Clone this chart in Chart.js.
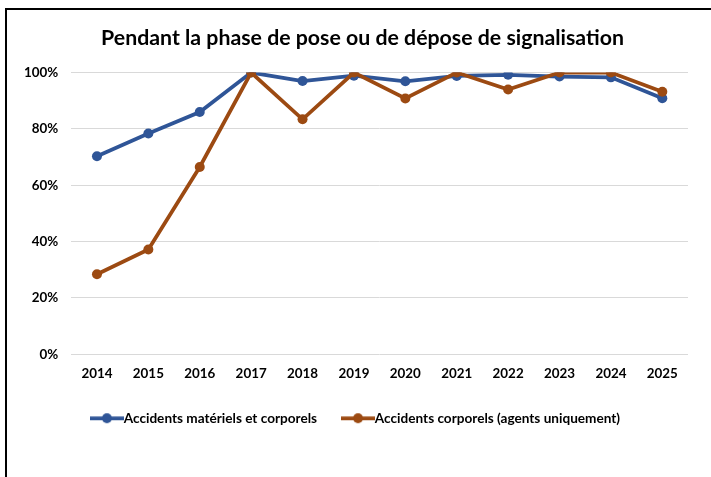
<!DOCTYPE html>
<html>
<head>
<meta charset="utf-8">
<script src="https://cdn.jsdelivr.net/npm/chart.js@4.4.1/dist/chart.umd.min.js"></script>
<style>
  html, body { margin: 0; padding: 0; background: #fff; overflow: hidden; }
  #wrap { position: absolute; left: 0; top: 0; width: 711px; height: 477px; }
  #frame { position: absolute; left: 5px; top: 8px; width: 720px; height: 480px;
           border-left: 2.5px solid #000; border-top: 2.5px solid #000; box-sizing: border-box; }
  canvas { position: absolute; left: 0; top: 0; }
</style>
</head>
<body>
<div id="wrap">
  <div id="frame"></div>
  <canvas id="c" width="711" height="477"></canvas>
</div>
<script>
const titleText = "Pendant la phase de pose ou de dépose de signalisation";
const years = ["2014","2015","2016","2017","2018","2019","2020","2021","2022","2023","2024","2025"];
const seriesNames = ["Accidents matériels et corporels", "Accidents corporels (agents uniquement)"];
const materielsCorporels = [70.3, 78.4, 86.0, 100, 97.0, 98.9, 96.9, 98.8, 99.2, 98.6, 98.3, 90.9];
const corporelsAgents   = [28.4, 37.2, 66.5, 100, 83.4, 100, 90.8, 100, 94.0, 100, 100, 93.2];
const yTicks = [0, 20, 40, 60, 80, 100];

const BLUE = "#2F5597";
const ORANGE = "#9C4A12";
const FONT = "Lato, 'Liberation Sans', sans-serif";

function legendMarker(color) {
  const cv = document.createElement("canvas");
  cv.width = 34; cv.height = 12;
  const g = cv.getContext("2d");
  g.strokeStyle = color; g.lineWidth = 3.75;
  g.beginPath(); g.moveTo(0, 6); g.lineTo(34, 6); g.stroke();
  g.fillStyle = color;
  g.beginPath(); g.arc(17, 6, 5, 0, Math.PI * 2); g.fill();
  return cv;
}
const markers = [legendMarker(BLUE), legendMarker(ORANGE)];

// nudge title and legend boxes to match the reference's placement
const boxNudge = {
  id: "boxNudge",
  afterLayout(chart) {
    const t = chart.titleBlock;
    if (t) { t.left += 13; t.right += 13; t.top -= 1; t.bottom -= 1; }
    const l = chart.legend;
    if (l) { l.left += 9; l.right += 9; l.top -= 12; l.bottom -= 12; l.adjustHitBoxes && l.adjustHitBoxes(); }
  }
};

new Chart(document.getElementById("c"), {
  type: "line",
  data: {
    labels: years,
    datasets: [
      { label: seriesNames[0], data: materielsCorporels, borderColor: BLUE, backgroundColor: BLUE,
        borderWidth: 3.75, pointRadius: 5, pointBackgroundColor: BLUE, pointBorderWidth: 0,
        tension: 0, order: 1 },
      { label: seriesNames[1], data: corporelsAgents, borderColor: ORANGE, backgroundColor: ORANGE,
        borderWidth: 3.75, pointRadius: 5, pointBackgroundColor: ORANGE, pointBorderWidth: 0,
        tension: 0, order: 0 }
    ]
  },
  plugins: [boxNudge],
  options: {
    responsive: false,
    animation: false,
    devicePixelRatio: 1,
    layout: { padding: { left: 11, right: 23, top: 0, bottom: 30 } },
    plugins: {
      tooltip: { enabled: false },
      title: {
        display: true, text: titleText, color: "#000",
        font: { family: FONT, size: 21.3, weight: "bold" },
        padding: { top: 26, bottom: 21 }
      },
      legend: {
        position: "bottom",
        labels: {
          color: "#000",
          font: { family: FONT, size: 13.6, weight: "bold" },
          usePointStyle: true,
          pointStyleWidth: 20,
          boxHeight: 12,
          padding: 31,
          sort: (a, b) => a.datasetIndex - b.datasetIndex,
          generateLabels: (chart) => chart.data.datasets.map((ds, i) => ({
            text: ds.label, datasetIndex: i, pointStyle: markers[i],
            fillStyle: ds.borderColor, strokeStyle: ds.borderColor, lineWidth: 0,
            fontColor: "#000", hidden: false
          }))
        }
      }
    },
    scales: {
      x: {
        offset: true,
        grid: { display: false, drawTicks: false },
        border: { display: false },
        ticks: { color: "#000", font: { family: FONT, size: 13.4, weight: "bold" }, padding: 11, maxRotation: 0 }
      },
      y: {
        min: 0, max: 100,
        afterBuildTicks: (axis) => { axis.ticks = yTicks.map(v => ({ value: v })); },
        grid: { color: "#D9D9D9", lineWidth: 1, drawTicks: false },
        border: { display: false },
        ticks: { color: "#000", font: { family: FONT, size: 13.4, weight: "bold" }, padding: 13,
                 callback: (v) => v + "%" }
      }
    }
  }
});
</script>
</body>
</html>
